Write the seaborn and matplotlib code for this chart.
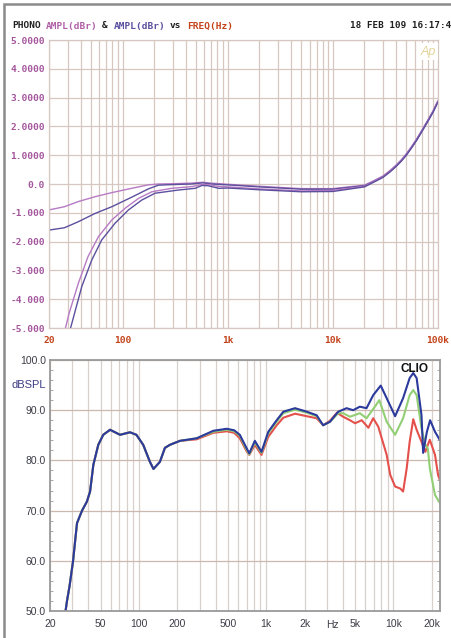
import matplotlib
matplotlib.use('Agg')

import pandas as pd
import seaborn as sns
import matplotlib.pyplot as plt
from matplotlib.patches import Rectangle
from matplotlib.ticker import FixedLocator, NullFormatter, MultipleLocator

# ---- top panel (Audio Precision, dBr vs Hz) ----
ap_upper_freq = [20, 28, 38, 55, 79, 122, 176, 220, 300, 450, 580, 700, 1000, 2000, 5000, 10000,
                 20000, 25000, 30000, 35000, 40000, 45000, 50000, 56000, 63000, 70000, 80000, 90000, 100000]
ap_pink_upper = [-0.90, -0.79, -0.61, -0.44, -0.30, -0.15, -0.03, 0.0, 0.01, 0.03, 0.06, 0.03, -0.01, -0.08,
                 -0.16, -0.16, -0.04, 0.13, 0.28, 0.47, 0.66, 0.85, 1.05, 1.30, 1.58, 1.86, 2.22, 2.55, 2.90]
ap_blue_upper = [-1.60, -1.52, -1.31, -1.02, -0.79, -0.46, -0.17, -0.04, -0.02, 0.0, 0.04, 0.0, -0.03, -0.10,
                 -0.18, -0.18, -0.06, 0.10, 0.25, 0.44, 0.63, 0.82, 1.02, 1.27, 1.55, 1.83, 2.19, 2.52, 2.87]

ap_lower_freq = [27.8, 31, 38, 47, 59, 79, 106, 142, 190, 294, 458, 560, 650, 800, 1000, 2000, 5000, 10000,
                 20000, 25000, 30000, 35000, 40000, 45000, 50000, 56000, 63000, 70000, 80000, 90000, 100000]
ap_pink_lower = [-5.2, -4.5, -3.45, -2.52, -1.83, -1.25, -0.84, -0.50, -0.27, -0.15, -0.09, -0.02, -0.02, -0.08,
                 -0.10, -0.17, -0.24, -0.22, -0.08, 0.10, 0.25, 0.44, 0.63, 0.82, 1.02, 1.27, 1.55, 1.83, 2.19, 2.52, 2.87]
ap_blue_freq = [31, 41, 51, 63.5, 85, 114, 152, 204, 339, 491, 570, 650, 823, 1000, 2000, 5000, 10000,
                20000, 25000, 30000, 35000, 40000, 45000, 50000, 56000, 63000, 70000, 80000, 90000, 100000]
ap_blue_lower = [-5.2, -3.56, -2.64, -1.94, -1.36, -0.90, -0.56, -0.32, -0.21, -0.15, -0.05, -0.06, -0.15, -0.14,
                 -0.20, -0.27, -0.26, -0.10, 0.08, 0.23, 0.42, 0.61, 0.80, 1.00, 1.25, 1.53, 1.81, 2.17, 2.50, 2.85]

ap_yticks = [5, 4, 3, 2, 1, 0, -1, -2, -3, -4, -5]
ap_ylabels = ['5.0000', '4.0000', '3.0000', '2.0000', '1.0000', '0.0',
              '-1.000', '-2.000', '-3.000', '-4.000', '-5.000']
ap_xticks = [20, 100, 1000, 10000, 100000]
ap_xlabels = ['20', '100', '1k', '10k', '100k']

# ---- bottom panel (CLIO, dBSPL vs Hz) ----
blue_freq = [26.5, 27.2, 28.5, 30.3, 32.6, 35.7, 39, 41.3, 43.8, 47.9, 52.4, 59.3, 71, 85, 95.5, 108, 122, 130,
             146, 160, 175, 210, 284, 384, 490, 560, 620, 702, 736, 814, 918, 1038, 1208, 1362, 1684, 2085,
             2490, 2800, 3170, 3680, 4280, 4820, 5440, 6140, 6930, 7940, 8840, 10300, 11900, 13400, 14300,
             15200, 16600, 17100, 18300, 19400, 21200, 23200]
blue_db = [50.0, 52.0, 55.0, 59.8, 67.5, 70.0, 71.8, 73.8, 79.1, 83.1, 85.1, 86.1, 85.1, 85.6, 85.1, 83.1, 79.7,
           78.3, 79.7, 82.5, 83.1, 83.9, 84.4, 85.9, 86.3, 86.0, 85.1, 82.4, 81.4, 83.9, 81.7, 85.7, 88.0, 89.7,
           90.4, 89.7, 89.0, 87.0, 87.7, 89.7, 90.4, 90.0, 90.7, 90.4, 93.0, 94.9, 92.4, 88.8, 92.4, 96.4, 97.4,
           96.4, 89.0, 81.5, 85.7, 88.0, 85.7, 84.0]

green_freq = [26.5, 27.2, 28.5, 30.3, 32.6, 35.7, 39, 41.3, 43.8, 47.9, 52.4, 59.3, 71, 85, 95.5, 108, 122, 130,
              146, 160, 175, 210, 284, 384, 490, 560, 620, 702, 736, 814, 918, 1038, 1208, 1362, 1684, 2085,
              2490, 2800, 3170, 3680, 4020, 4550, 5440, 6140, 7140, 7740, 8840, 10300, 11900, 13400, 14300,
              15200, 16600, 17800, 18600, 19300, 21200, 23200]
green_db = [50.0, 52.0, 55.0, 59.8, 67.5, 70.0, 71.8, 73.8, 79.1, 83.1, 85.1, 86.1, 85.1, 85.6, 85.1, 83.1, 79.7,
            78.3, 79.7, 82.5, 83.1, 83.9, 84.4, 85.7, 86.1, 85.8, 84.9, 82.1, 81.2, 83.6, 81.5, 85.4, 87.7, 89.4,
            90.1, 89.5, 88.8, 87.0, 87.7, 89.4, 89.4, 88.7, 89.4, 88.4, 90.7, 92.0, 87.7, 85.1, 88.4, 93.0, 94.0,
            93.0, 86.4, 83.1, 82.4, 78.4, 73.1, 71.5]

red_freq = [26.5, 27.2, 28.5, 30.3, 32.6, 35.7, 39, 41.3, 43.8, 47.9, 52.4, 59.3, 71, 85, 95.5, 108, 122, 130,
            146, 160, 175, 210, 284, 384, 490, 560, 620, 702, 736, 814, 918, 1038, 1208, 1362, 1684, 2085,
            2490, 2800, 3170, 3600, 4020, 4550, 4990, 5630, 6350, 6930, 7600, 8840, 9430, 10300, 11300, 11900,
            12700, 13400, 14300, 15200, 16600, 17800, 18600, 19300, 21200, 22400, 23200]
red_db = [50.0, 52.0, 55.0, 59.8, 67.5, 70.0, 71.8, 73.8, 79.1, 83.1, 85.1, 86.1, 85.1, 85.6, 85.1, 83.1, 79.7,
          78.3, 79.7, 82.5, 83.1, 83.9, 84.2, 85.5, 85.8, 85.5, 84.4, 81.8, 81.1, 83.1, 81.1, 84.7, 87.0, 88.5,
          89.3, 88.8, 88.4, 87.0, 87.9, 89.5, 88.7, 88.0, 87.4, 88.0, 86.5, 88.4, 86.7, 81.1, 77.1, 74.8, 74.4,
          73.8, 78.4, 83.7, 88.2, 86.1, 83.7, 81.7, 83.1, 84.1, 81.1, 77.1, 76.0]

clio_yticks = [100, 90, 80, 70, 60, 50]
clio_ylabels = ['100.0', '90.0', '80.0', '70.0', '60.0', '50.0']
clio_xticks = [20, 50, 100, 200, 500, 1000, 2000, 5000, 10000, 20000]
clio_xlabels = ['20', '50', '100', '200', '500', '1k', '2k', '5k', '10k', '20k']

sns.set_theme(style='white')
plt.rcParams['font.family'] = ['Liberation Sans', 'DejaVu Sans']

W, H = 452, 638
fig = plt.figure(figsize=(W / 100, H / 100), dpi=100)
fig.patch.set_facecolor('white')


def fx(px):
    return px / W


def fy(py):
    return 1 - py / H


# outer frame (only left/top visible)
fig.add_artist(Rectangle((fx(4), -0.1), 2, fy(4) + 0.1, transform=fig.transFigure,
                         fill=False, ec='#8a8a8a', lw=1.8))

# ================= top panel =================
ax1 = fig.add_axes([fx(49), fy(328), fx(438) - fx(49), fy(40) - fy(328)])
ax1.set_xscale('log')

top_df = pd.concat([
    pd.DataFrame({'freq': ap_upper_freq, 'val': ap_pink_upper, 'curve': 'pink_upper'}),
    pd.DataFrame({'freq': ap_upper_freq, 'val': ap_blue_upper, 'curve': 'blue_upper'}),
    pd.DataFrame({'freq': ap_lower_freq, 'val': ap_pink_lower, 'curve': 'pink_lower'}),
    pd.DataFrame({'freq': ap_blue_freq, 'val': ap_blue_lower, 'curve': 'blue_lower'}),
])
top_pal = {'pink_upper': '#b77ac4', 'blue_upper': '#5c4f9e',
           'pink_lower': '#b77ac4', 'blue_lower': '#5c4f9e'}
sns.lineplot(data=top_df, x='freq', y='val', hue='curve', palette=top_pal, estimator=None,
             sort=False, linewidth=1.0, legend=False, ax=ax1)

ax1.set_xlim(20, 100000)
ax1.set_ylim(-5, 5)
ax1.xaxis.set_major_locator(FixedLocator(ap_xticks))
ax1.set_xticklabels(ap_xlabels)
ax1.xaxis.set_minor_formatter(NullFormatter())
ax1.set_yticks(ap_yticks)
ax1.set_yticklabels(ap_ylabels)
ax1.grid(True, which='both', axis='x', color='#d6c8c0', lw=0.9)
ax1.grid(True, which='major', axis='y', color='#d6c8c0', lw=0.9)
ax1.set_axisbelow(True)
for s in ax1.spines.values():
    s.set_color('#d6c8c0')
    s.set_linewidth(0.9)
ax1.tick_params(axis='both', which='both', length=0)
ax1.tick_params(axis='y', pad=3)
ax1.tick_params(axis='x', pad=6)
for lab in ax1.get_yticklabels():
    lab.set_fontfamily('DejaVu Sans Mono')
    lab.set_fontweight('bold')
    lab.set_fontsize(6.8)
    lab.set_color('#a4559c')
for lab in ax1.get_xticklabels():
    lab.set_fontfamily('DejaVu Sans Mono')
    lab.set_fontweight('bold')
    lab.set_fontsize(6.8)
    lab.set_color('#c4421a')
ax1.set_xlabel('')
ax1.set_ylabel('')

ax1.text(0.975, 0.96, 'Ap', transform=ax1.transAxes, ha='center', va='center',
         fontsize=9, style='italic', color='#e2d49a',
         bbox=dict(facecolor='white', edgecolor='none', pad=1.5))

# title with coloured segments (monospace)
cw = 5.64
segments = [('PHONO', 0, '#202020'), ('AMPL(dBr)', 6, '#b060a8'), ('&', 16, '#202020'),
            ('AMPL(dBr)', 18, '#5a50a0'), ('vs', 28, '#202020'), ('FREQ(Hz)', 31, '#c4421a')]
for txt, idx, col in segments:
    fig.text(fx(12 + idx * cw), fy(26), txt, family='DejaVu Sans Mono', weight='bold',
             fontsize=6.8, color=col, ha='left', va='center')
fig.text(fx(451), fy(26), '18 FEB 109 16:17:4', family='DejaVu Sans Mono', weight='bold',
         fontsize=6.7, color='#202020', ha='right', va='center')

# ================= bottom panel =================
ax2 = fig.add_axes([fx(50), fy(611), fx(440) - fx(50), fy(360) - fy(611)])
ax2.set_xscale('log')

clio_df = pd.concat([
    pd.DataFrame({'freq': red_freq, 'db': red_db, 'curve': 'red'}),
    pd.DataFrame({'freq': green_freq, 'db': green_db, 'curve': 'green'}),
    pd.DataFrame({'freq': blue_freq, 'db': blue_db, 'curve': 'blue'}),
])
clio_pal = {'red': '#e4504c', 'green': '#92cf74', 'blue': '#2b3a9c'}
sns.lineplot(data=clio_df, x='freq', y='db', hue='curve', palette=clio_pal, estimator=None,
             sort=False, linewidth=1.5, legend=False, ax=ax2)

ax2.set_xlim(20, 23200)
ax2.set_ylim(50, 100)
ax2.xaxis.set_major_locator(FixedLocator(clio_xticks))
ax2.set_xticklabels(clio_xlabels)
ax2.xaxis.set_minor_formatter(NullFormatter())
ax2.set_yticks(clio_yticks)
ax2.set_yticklabels(clio_ylabels)
ax2.yaxis.set_minor_locator(MultipleLocator(2))
ax2.grid(True, which='both', axis='x', color='#d8d0cc', lw=0.9)
ax2.grid(True, which='major', axis='y', color='#cbb8ae', lw=0.9)
ax2.set_axisbelow(True)
for s in ax2.spines.values():
    s.set_color('#9a9a9a')
    s.set_linewidth(1.3)
ax2.tick_params(axis='x', which='both', length=0, pad=6, labelsize=7.5, labelcolor='#3c3c48')
ax2.tick_params(axis='y', which='major', length=0, pad=3, labelsize=7.5, labelcolor='#3c3c48')
ax2.tick_params(axis='y', which='minor', length=2.5, width=0.6, color='#9a9a9a',
                direction='in', right=True, left=True)
ax2.set_xlabel('')
ax2.set_ylabel('')

ax2.text(3340, -0.055, 'Hz', transform=ax2.get_xaxis_transform(), ha='center', va='center',
         fontsize=7.5, color='#3c3c48')
fig.text(fx(29), fy(385), 'dBSPL', ha='center', va='center', fontsize=8, color='#3e3e86')
ax2.text(0.935, 0.965, 'CLIO', transform=ax2.transAxes, ha='center', va='center',
         fontsize=8.5, weight='bold', color='#111111')

fig.savefig('out.png', dpi=100)
